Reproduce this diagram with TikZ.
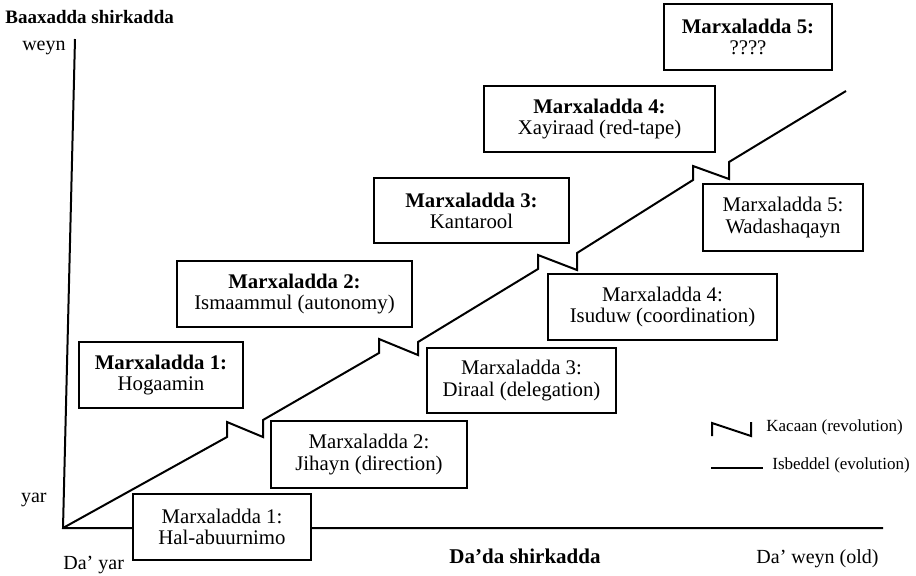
\documentclass[tikz,border=0pt]{standalone}
\usepackage{fontspec}
\setmainfont{Liberation Serif}
\tikzset{
	stage/.style={draw, fill=white, line width=1pt, align=center, inner sep=0pt, font=\fontsize{10.4}{10.6}\selectfont},
	axislbl/.style={inner sep=0pt, font=\fontsize{10}{12}\selectfont},
	keylbl/.style={inner sep=0pt, anchor=west, font=\fontsize{8.5}{10}\selectfont},
	path/.style={line width=1pt}
}
\begin{document}
\begin{tikzpicture}[x=0.5pt, y=-0.5pt, line join=miter, line cap=butt]
	\useasboundingbox (0,0) rectangle (916,575);
	% Axes
	\coordinate (O) at (63,528);
	\coordinate (Ytop) at (75,39);
	\coordinate (Xend) at (883,528);
	\draw[path] (Ytop) -- (O) -- (Xend);
	% Axis labels
	\node[axislbl, anchor=west, font=\fontsize{9.5}{11}\selectfont\bfseries] (ytitle) at (5,17) {Baaxadda shirkadda};
	\node[axislbl, anchor=east] (ybig) at (66,48) {weyn};
	\node[axislbl, anchor=east] (ysmall) at (47,500) {yar};
	\node[axislbl, anchor=base west] (xsmall) at (63,569) {Da’ yar};
	\node[axislbl, anchor=base, font=\fontsize{10.5}{12}\selectfont\bfseries] (xtitle) at (525,563) {Da’da shirkadda};
	\node[axislbl, anchor=base east] (xbig) at (879,563) {Da’ weyn (old)};
	% Stages below the line (evolution)
	\node[stage, minimum width=89pt, minimum height=33pt] (low1) at (222,527) {Marxaladda 1:\\Hal-abuurnimo};
	\node[stage, minimum width=98pt, minimum height=33.5pt] (low2) at (369,454.5) {Marxaladda 2:\\Jihayn (direction)};
	\node[stage, minimum width=94.5pt, minimum height=32.5pt] (low3) at (521.5,380.5) {Marxaladda 3:\\Diraal (delegation)};
	\node[stage, minimum width=114.5pt, minimum height=33pt] (low4) at (662.5,307) {Marxaladda 4:\\Isuduw (coordination)};
	\node[stage, minimum width=80pt, minimum height=33.5pt] (low5) at (783,217.5) {Marxaladda 5:\\Wadashaqayn};
	% Stages above the line (revolution)
	\node[stage, minimum width=82pt, minimum height=33pt] (up1) at (161,375) {\textbf{Marxaladda 1:}\\Hogaamin};
	\node[stage, minimum width=117.5pt, minimum height=33pt] (up2) at (294.5,294) {\textbf{Marxaladda 2:}\\Ismaammul (autonomy)};
	\node[stage, minimum width=97.5pt, minimum height=32.5pt] (up3) at (471.5,210.5) {\textbf{Marxaladda 3:}\\Kantarool};
	\node[stage, minimum width=115.5pt, minimum height=33pt] (up4) at (599.5,119) {\textbf{Marxaladda 4:}\\Xayiraad (red-tape)};
	\node[stage, minimum width=84pt, minimum height=33pt] (up5) at (748,37) {\textbf{Marxaladda 5:}\\????};
	% Kacaan points on the growth line
	\coordinate (K1) at (227,437);
	\coordinate (K2) at (379,353);
	\coordinate (K3) at (538,269);
	\coordinate (K4) at (693,180);
	\coordinate (Gend) at (846,91);
	% Growth line with the notches
	\draw[path] (O) -- (K1) -- ++(0,-15) -- ++(36,15) -- ++(0,-17)
		-- (K2) -- ++(0,-14) -- ++(39,16) -- ++(0,-13)
		-- (K3) -- ++(0,-14) -- ++(39,15) -- ++(0,-17)
		-- (K4) -- ++(0,-14) -- ++(36,13) -- ++(0,-17)
		-- (Gend);
	% Legend
	\coordinate (L1) at (712,436);
	\coordinate (L2) at (711,468);
	\coordinate (L3) at (763,468);
	\draw[path] (L1) -- ++(0,-13) -- ++(39,13) -- ++(0,-14);
	\draw[path] (L2) -- (L3);
	\node[keylbl] (kacaan) at (766,427) {Kacaan (revolution)};
	\node[keylbl] (isbeddel) at (772,465) {Isbeddel (evolution)};
\end{tikzpicture}
\end{document}
